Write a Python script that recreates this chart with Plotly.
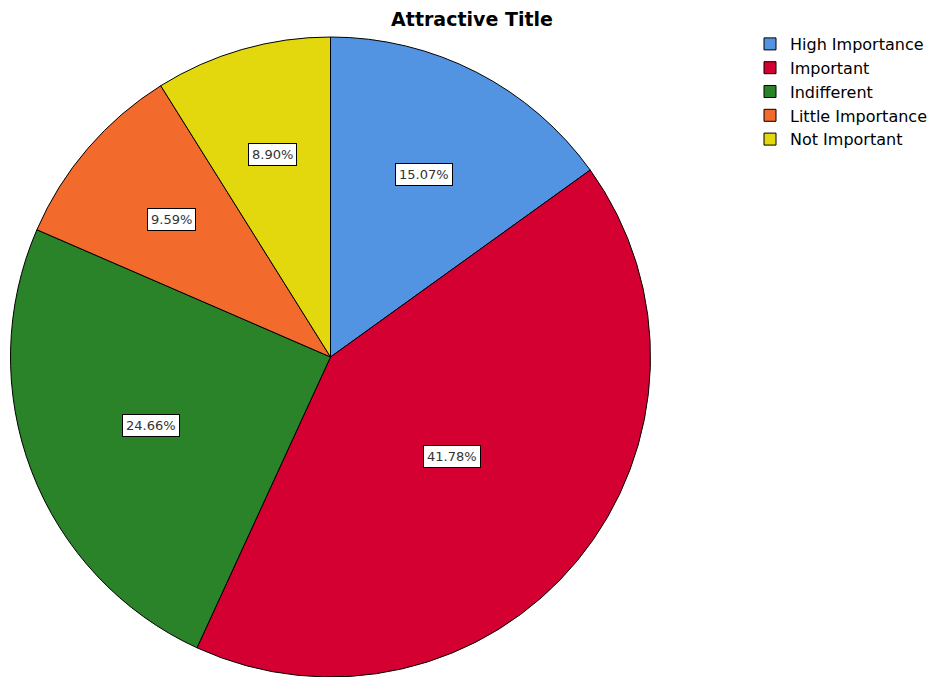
import math
import plotly.graph_objects as go

categories = ["High Importance", "Important", "Indifferent", "Little Importance", "Not Important"]
values = [15.07, 41.78, 24.66, 9.59, 8.90]
colors = ["#5294E2", "#D50032", "#2A8229", "#F26B2D", "#E3D70E"]
title_text = "Attractive Title"

# page body has an 8px margin, so the figure is 8px smaller than the window on each side
W, H = 935, 669
cx_px, cy_px, r_px = 322.5, 349.0, 320.0

fig = go.Figure()
fig.add_trace(go.Pie(
    labels=categories, values=values, sort=False, direction="clockwise", rotation=0,
    marker=dict(colors=colors, line=dict(color="black", width=1)),
    textinfo="none", hoverinfo="label+percent",
    domain=dict(x=[max(0.0, (cx_px - r_px) / W), min(1.0, (cx_px + r_px) / W)],
                y=[max(0.0, 1 - (cy_px + r_px) / H), min(1.0, 1 - (cy_px - r_px) / H)]),
))

# percentage labels at slice centroids, computed from the data
total = sum(values)
annotations = []
start = 0.0
for v in values:
    span = 2 * math.pi * v / total
    mid = start + span / 2
    d = r_px * 4 * math.sin(span / 2) / (3 * span)
    x_px = cx_px + d * math.sin(mid)
    y_px = cy_px - d * math.cos(mid)
    annotations.append(dict(
        x=x_px / W, y=1 - y_px / H, xref="paper", yref="paper",
        xanchor="center", yanchor="middle",
        text=f"{100 * v / total:.2f}%", showarrow=False,
        font=dict(family="DejaVu Sans", size=13, color="#333333"),
        bgcolor="white", bordercolor="black", borderwidth=1, borderpad=3,
    ))
    start += span

fig.update_layout(
    width=W, height=H,
    margin=dict(l=0, r=0, t=0, b=0),
    paper_bgcolor="white", plot_bgcolor="white",
    title=dict(text=f"<b>{title_text}</b>", x=464 / W, xanchor="center", y=1 - 11 / H, yanchor="middle",
               font=dict(family="DejaVu Sans", size=19, color="black")),
    legend=dict(x=742 / W, y=1 - 19 / H, xanchor="left", yanchor="top",
                font=dict(family="DejaVu Sans", size=16, color="black"),
                itemwidth=30, tracegroupgap=0),
    annotations=annotations,
)

fig.write_html("out.html")
